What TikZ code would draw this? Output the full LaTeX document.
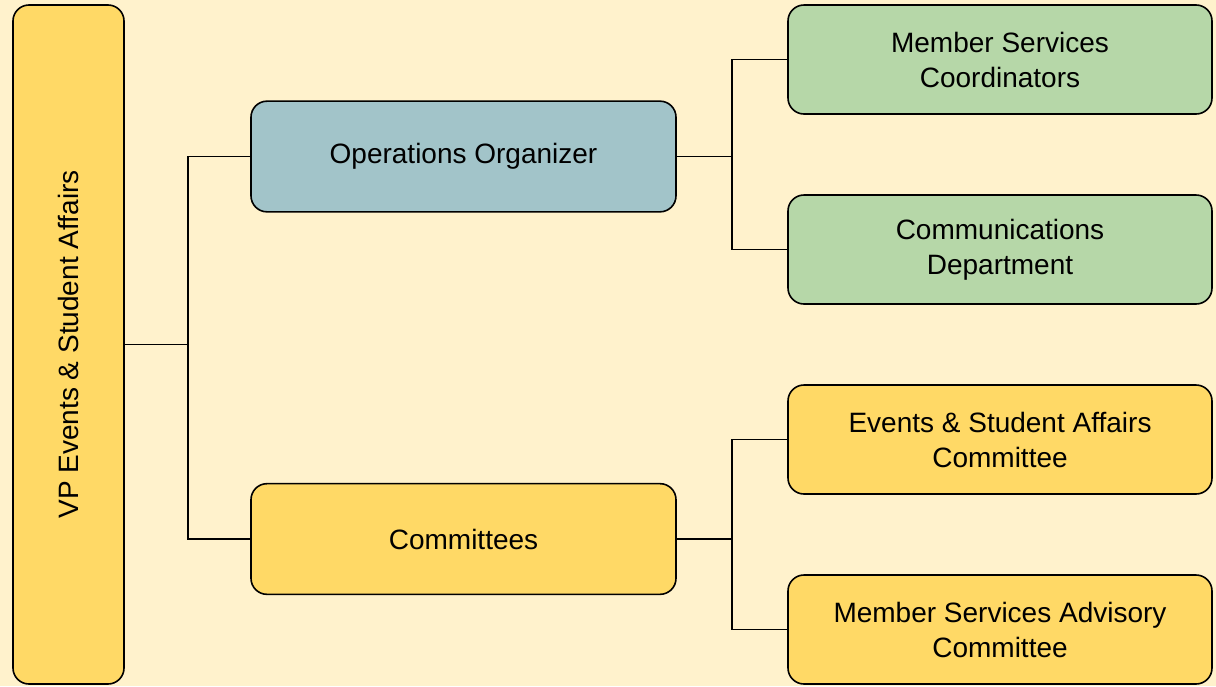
\documentclass[tikz,border=0pt]{standalone}
\usepackage{fontspec}
\setmainfont{Liberation Sans}
\usepackage{graphicx}
\usepackage{tikz}

\definecolor{bgcol}{HTML}{FFF2CC}
\definecolor{yellowbox}{HTML}{FFD966}
\definecolor{bluebox}{HTML}{A2C4C9}
\definecolor{greenbox}{HTML}{B6D7A8}

\begin{document}
\begin{tikzpicture}[x=0.75pt,y=-0.75pt,
    box/.style={draw=black, line width=1.2pt, rounded corners=12pt, align=center,
      font=\fontsize{21}{26.25}\selectfont, inner sep=0pt},
    midbox/.style={box, minimum width=318.75pt, minimum height=83pt},
    sidebox/.style={box, minimum width=318pt, minimum height=81.75pt, fill=greenbox},
    link/.style={draw=black, line width=1.2pt}]
    % Hintergrund
    \fill[bgcol] (0,0) rectangle (1216,686);
    \useasboundingbox (0,0) rectangle (1216,686);

    % VP links
    \node[box, fill=yellowbox, minimum width=83.25pt, minimum height=509.25pt] (vp) at (68.5,344.5)
      {\rotatebox{90}{VP Events \& Student Affairs}};

    % mittlere Ebene
    \node[midbox, fill=bluebox] (ops) at (463.5,156.5) {Operations Organizer};
    \node[midbox, fill=yellowbox] (comm) at (463.5,539) {Committees};

    % rechte Ebene
    \node[sidebox] (msc) at (1000,59.5) {Member Services\\Coordinators};
    \node[sidebox] (cdep) at (1000,249.5) {Communications\\Department};
    \node[sidebox, fill=yellowbox] (esac) at (1000,439.5) {Events \& Student Affairs\\Committee};
    \node[sidebox, fill=yellowbox] (msac) at (1000,629.5) {Member Services Advisory\\Committee};

    % Verbindungen
    \coordinate (j1) at (188,344.5);
    \coordinate (j2) at (732,156.5);
    \coordinate (j3) at (732,539);
    \draw[link] (vp.east) -- (j1);
    \draw[link] (j1) |- (ops.west);
    \draw[link] (j1) |- (comm.west);
    \draw[link] (ops.east) -- (j2);
    \draw[link] (j2) |- (msc.west);
    \draw[link] (j2) |- (cdep.west);
    \draw[link] (comm.east) -- (j3);
    \draw[link] (j3) |- (esac.west);
    \draw[link] (j3) |- (msac.west);
\end{tikzpicture}
\end{document}
